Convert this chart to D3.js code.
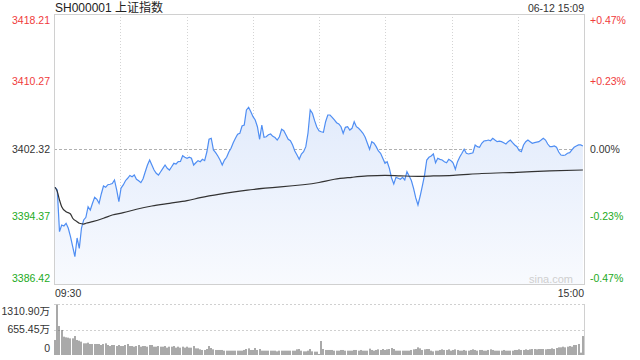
<!DOCTYPE html>
<html>
<head>
<meta charset="utf-8">
<script src="https://cdn.jsdelivr.net/npm/d3@7"></script>
<style>
  body { margin: 0; background: #fff; }
  svg { display: block; font-family: Arial, "Liberation Sans", "Noto Sans CJK SC", sans-serif; }
</style>
</head>
<body>
<svg width="640" height="360"></svg>
<script>
// подписи
const title = "SH000001 上证指数";
const stamp = "06-12 15:09";
const timeLabels = ["09:30", "15:00"];
const preClose = 3402.32;
const priceTicks = [3418.21, 3410.27, 3402.32, 3394.37, 3386.42];
const pctTicks = ["+0.47%", "+0.23%", "0.00%", "-0.23%", "-0.47%"];
const volTicks = [1310.90, 655.45, 0];
const volTickLabels = ["1310.90万", "655.45万", "0"];

// цена по минутам (0 = 09:30 ... 240 = 15:00)
const price = [
  3397.81, 3397.49, 3392.58, 3393.37, 3393.25, 3393.57, 3392.98, 3391.99, 3390.81, 3389.63,
  3391.84, 3390.62, 3393.01, 3393.96, 3394.27, 3395.52, 3395.13, 3395.92, 3396.63, 3396.39,
  3395.92, 3397.02, 3397.96, 3397.81, 3398.11, 3398.16, 3398.25, 3398.67, 3397.49, 3396.11,
  3397.72, 3398.08, 3398.58, 3398.87, 3399.20, 3399.05, 3399.25, 3398.75, 3398.58, 3398.35,
  3398.82, 3399.64, 3400.43, 3401.02, 3400.43, 3399.84, 3399.45, 3399.25, 3399.64, 3400.04,
  3400.43, 3400.04, 3399.84, 3400.23, 3400.63, 3400.55, 3400.82, 3400.84, 3401.53, 3401.34,
  3401.22, 3401.34, 3401.22, 3400.43, 3400.70, 3400.94, 3400.82, 3401.10, 3400.94, 3401.96,
  3403.46, 3403.58, 3402.20, 3401.88, 3401.49, 3401.02, 3400.43, 3401.02, 3401.34, 3401.96,
  3402.40, 3403.06, 3403.58, 3404.05, 3404.16, 3405.02, 3405.14, 3406.91, 3407.23, 3406.71,
  3406.12, 3405.73, 3404.94, 3403.46, 3405.14, 3403.69, 3403.76, 3404.00, 3404.08, 3403.81,
  3403.67, 3403.37, 3403.76, 3404.64, 3404.47, 3403.96, 3403.46, 3403.29, 3402.79, 3402.08,
  3401.61, 3401.10, 3401.73, 3402.00, 3402.59, 3404.20, 3406.91, 3406.52, 3405.65, 3404.91,
  3404.47, 3404.35, 3404.28, 3405.53, 3406.32, 3406.32, 3406.05, 3405.73, 3405.41, 3405.26,
  3404.94, 3404.16, 3404.87, 3404.94, 3404.55, 3404.75, 3405.53, 3404.94, 3404.75, 3404.47,
  3404.16, 3403.69, 3402.99, 3402.28, 3403.18, 3402.99, 3402.59, 3402.08, 3401.81, 3401.22,
  3400.63, 3400.82, 3400.04, 3398.90, 3398.19, 3398.98, 3398.87, 3398.75, 3398.98, 3398.67,
  3399.64, 3399.14, 3398.61, 3397.69, 3396.55, 3395.72, 3396.78, 3397.96, 3399.25, 3401.02,
  3401.34, 3401.49, 3401.73, 3400.70, 3401.22, 3401.10, 3401.02, 3400.82, 3400.70, 3401.10,
  3400.94, 3400.67, 3399.93, 3400.82, 3401.37, 3401.81, 3402.28, 3401.81, 3401.73, 3401.79,
  3401.88, 3402.79, 3402.59, 3402.52, 3402.99, 3403.26, 3403.29, 3403.37, 3403.29, 3403.58,
  3403.37, 3403.18, 3403.23, 3403.18, 3403.06, 3402.90, 3403.18, 3403.37, 3403.06, 3402.79,
  3402.59, 3402.12, 3402.00, 3402.79, 3403.18, 3403.37, 3403.18, 3402.99, 3403.06, 3403.12,
  3403.18, 3403.37, 3403.58, 3403.37, 3402.90, 3402.59, 3402.59, 3402.67, 3402.52, 3401.96,
  3401.61, 3401.57, 3401.61, 3401.81, 3401.88, 3402.20, 3402.52, 3402.67, 3402.79, 3402.79,
  3402.67
];

// средняя цена (минута, значение)
const avgMin = [0, 1, 2, 3, 5, 7, 8, 10, 11, 13, 14, 17, 22, 26, 31, 37, 44, 52, 60, 66,
                90, 120, 127, 135, 142, 150, 157, 165, 172, 181, 194, 210, 225, 240];
const avgVal = [3397.81, 3397.29, 3396.31, 3395.52, 3394.93, 3394.66, 3394.16, 3393.76, 3393.57, 3393.48,
                3393.57, 3393.76, 3394.16, 3394.54, 3394.82, 3395.22, 3395.60, 3395.92, 3396.23, 3396.58,
                3397.55, 3398.37, 3398.75, 3398.98, 3399.14, 3399.22, 3399.16, 3399.10, 3399.14, 3399.22,
                3399.43, 3399.57, 3399.73, 3399.84];

// объём,万
const volume = [
  386, 1303, 745, 643, 471, 454, 446, 428, 428, 488,
  386, 368, 343, 300, 300, 317, 283, 283, 283, 283,
  283, 257, 283, 300, 257, 231, 257, 257, 231, 257,
  231, 231, 257, 283, 231, 231, 214, 231, 257, 214,
  231, 231, 214, 257, 257, 214, 214, 231, 214, 214,
  231, 189, 214, 214, 231, 189, 214, 189, 214, 189,
  214, 189, 189, 231, 171, 171, 146, 129, 129, 154,
  231, 180, 146, 129, 129, 129, 129, 111, 111, 111,
  111, 111, 111, 111, 111, 111, 129, 154, 171, 129,
  129, 180, 129, 154, 111, 111, 111, 111, 111, 111,
  111, 94, 111, 111, 111, 111, 111, 111, 111, 111,
  146, 154, 111, 94, 94, 111, 154, 94, 86, 86,
  26, 360, 154, 129, 129, 129, 129, 111, 111, 111,
  129, 129, 111, 111, 111, 111, 129, 129, 111, 129,
  111, 111, 111, 163, 129, 111, 129, 146, 129, 154,
  129, 146, 154, 180, 154, 111, 111, 111, 111, 111,
  111, 111, 129, 146, 154, 197, 171, 129, 146, 154,
  154, 111, 94, 111, 111, 129, 146, 129, 129, 146,
  111, 129, 146, 129, 111, 111, 129, 111, 111, 129,
  146, 129, 111, 129, 129, 111, 111, 129, 146, 129,
  111, 111, 111, 111, 129, 111, 111, 111, 111, 129,
  129, 146, 129, 129, 146, 129, 146, 154, 154, 146,
  154, 154, 154, 146, 154, 154, 171, 154, 180, 197,
  197, 214, 197, 214, 231, 214, 257, 257, 283, 60,
  488
];

function drawGraph() {
    const svg = d3.select("svg");
    svg.selectAll('*').remove();

    // области вывода
    const area = { left: 54, right: 584, top: 14, bottom: 284, volTop: 304, volBottom: 355 };

    const scX = d3.scaleLinear().domain([-0.5, price.length - 0.5]).range([area.left, area.right]);
    const scY = d3.scaleLinear().domain([priceTicks[4], priceTicks[0]]).range([area.bottom, area.top]);
    const scV = d3.scaleLinear().domain([0, volTicks[0]]).range([area.volBottom, area.volTop]);

    const px = v => Math.round(v) + 0.5;

    // градиент под линией
    const grad = svg.append("defs").append("linearGradient")
        .attr("id", "fillGrad")
        .attr("gradientUnits", "userSpaceOnUse")
        .attr("x1", 0).attr("y1", area.top).attr("x2", 0).attr("y2", area.bottom);
    grad.append("stop").attr("offset", "0%").attr("stop-color", "#d6e3fa");
    grad.append("stop").attr("offset", "100%").attr("stop-color", "#f8fafe");

    createGrid(svg, area, scY, scV, px);

    // заливка и линия цены
    svg.append("path")
        .datum(price)
        .attr("d", d3.area().x((d, i) => scX(i)).y0(area.bottom).y1(d => scY(d)))
        .style("fill", "url(#fillGrad)");

    svg.append("path")
        .datum(price)
        .attr("d", d3.line().x((d, i) => scX(i)).y(d => scY(d)))
        .style("fill", "none")
        .style("stroke", "#4f8ef3")
        .style("stroke-width", 1.2);

    // средняя
    svg.append("path")
        .datum(avgMin.map((m, i) => [m, avgVal[i]]))
        .attr("d", d3.line().x(d => scX(d[0])).y(d => scY(d[1])).curve(d3.curveMonotoneX))
        .style("fill", "none")
        .style("stroke", "#333")
        .style("stroke-width", 1.2);

    // объём
    svg.append("g").selectAll("rect")
        .data(volume)
        .enter()
        .append("rect")
        .attr("x", (d, i) => Math.round(scX(i)) - 0.5)
        .attr("y", d => scV(d))
        .attr("width", 1)
        .attr("height", d => area.volBottom - scV(d))
        .style("fill", "#555");

    createLabels(svg, area, scY, scV);
}

function createGrid(svg, area, scY, scV, px) {
    const g = svg.append("g").style("fill", "none");

    // вертикальные пунктирные линии
    const gx = d3.scaleLinear().domain([0, 8]).range([area.left, area.right]);
    g.selectAll(".vgrid")
        .data(d3.range(1, 8))
        .enter()
        .append("line")
        .attr("x1", d => px(gx(d))).attr("x2", d => px(gx(d)))
        .attr("y1", area.top).attr("y2", area.bottom)
        .style("stroke", "#d4d4d4")
        .style("stroke-dasharray", "1,2");

    // линия вчерашнего закрытия
    g.append("line")
        .attr("x1", area.left).attr("x2", area.right)
        .attr("y1", px(scY(preClose))).attr("y2", px(scY(preClose)))
        .style("stroke", "#b0b0b0")
        .style("stroke-dasharray", "3,2");

    // рамка графика цены
    g.append("rect")
        .attr("x", px(area.left)).attr("y", px(area.top))
        .attr("width", Math.round(area.right - area.left))
        .attr("height", Math.round(area.bottom - area.top))
        .style("stroke", "#d0d0d0");

    // сетка объёма
    g.selectAll(".vol-grid")
        .data(volTicks.slice(0, 2))
        .enter()
        .append("line")
        .attr("x1", area.left).attr("x2", area.right)
        .attr("y1", d => px(scV(d))).attr("y2", d => px(scV(d)))
        .style("stroke", "#d0d0d0")
        .style("stroke-dasharray", "2,2");

    g.append("line")
        .attr("x1", px(area.right)).attr("x2", px(area.right))
        .attr("y1", area.volTop).attr("y2", area.volBottom)
        .style("stroke", "#d0d0d0");
}

function createLabels(svg, area, scY, scV) {
    const fs = "10.5px";
    const colorOf = i => i < 2 ? "#f03b3b" : (i === 2 ? "#333" : "#22aa22");
    // сдвиг крайних подписей внутрь
    const shift = (i, n) => i === 0 ? 6.5 : (i === n - 1 ? -6 : 0);

    svg.append("g").selectAll("text")
        .data(priceTicks)
        .enter()
        .append("text")
        .attr("x", area.left - 4)
        .attr("y", (d, i) => scY(d) + shift(i, priceTicks.length))
        .attr("dy", "0.35em")
        .attr("text-anchor", "end")
        .style("font-size", fs)
        .style("fill", (d, i) => colorOf(i))
        .text(d => d.toFixed(2));

    svg.append("g").selectAll("text")
        .data(pctTicks)
        .enter()
        .append("text")
        .attr("x", area.right + 6)
        .attr("y", (d, i) => scY(priceTicks[i]) + shift(i, pctTicks.length))
        .attr("dy", "0.35em")
        .style("font-size", fs)
        .style("fill", (d, i) => colorOf(i))
        .text(d => d);

    svg.append("g").selectAll("text")
        .data(volTicks)
        .enter()
        .append("text")
        .attr("x", area.left - 4)
        .attr("y", (d, i) => scV(d) + shift(i, volTicks.length) * 1.1)
        .attr("dy", "0.35em")
        .attr("text-anchor", "end")
        .style("font-size", fs)
        .style("fill", "#333")
        .text((d, i) => volTickLabels[i]);

    // время
    svg.append("text")
        .attr("x", area.left + 1).attr("y", area.bottom + 9).attr("dy", "0.35em")
        .style("font-size", fs).style("fill", "#333")
        .text(timeLabels[0]);
    svg.append("text")
        .attr("x", area.right).attr("y", area.bottom + 9).attr("dy", "0.35em")
        .attr("text-anchor", "end")
        .style("font-size", fs).style("fill", "#333")
        .text(timeLabels[1]);

    // заголовок и дата
    svg.append("text")
        .attr("x", area.left + 1).attr("y", 8).attr("dy", "0.35em")
        .style("font-size", "12px").style("fill", "#222")
        .text(title);
    svg.append("text")
        .attr("x", area.right).attr("y", 8).attr("dy", "0.35em")
        .attr("text-anchor", "end")
        .style("font-size", fs).style("fill", "#333")
        .text(stamp);

    // водяной знак
    svg.append("text")
        .attr("x", area.right - 11).attr("y", area.bottom - 5).attr("dy", "0.35em")
        .attr("text-anchor", "end")
        .style("font-size", "11px").style("fill", "#cfcfcf")
        .text("sina.com");
}

drawGraph();
</script>
</body>
</html>
